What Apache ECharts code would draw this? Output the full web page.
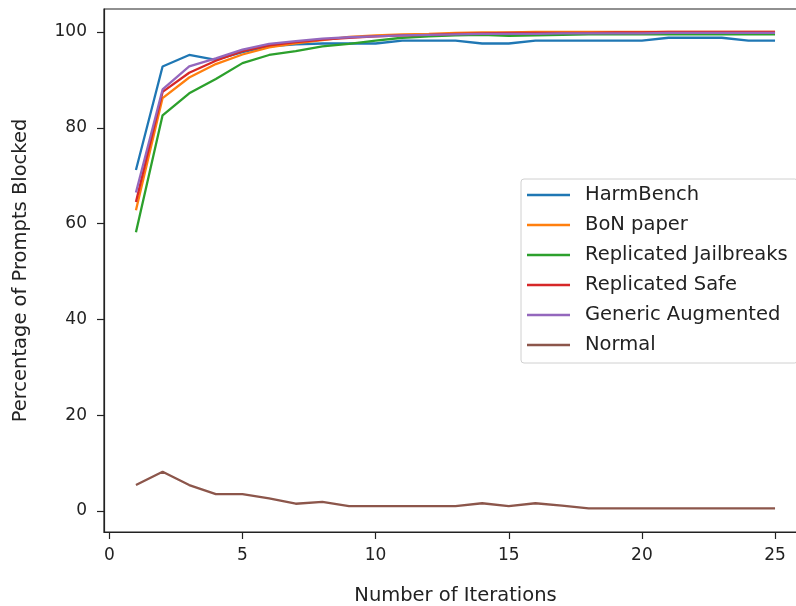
<!DOCTYPE html>
<html>
<head>
<meta charset="utf-8">
<script src="https://cdn.jsdelivr.net/npm/echarts@6/dist/echarts.min.js"></script>
<style>
html,body{margin:0;padding:0;background:#fff;overflow:hidden;width:796px;height:606px;}
#chart{width:811px;height:606px;}
</style>
</head>
<body>
<div id="chart"></div>
<script>
const iterations = [1,2,3,4,5,6,7,8,9,10,11,12,13,14,15,16,17,18,19,20,21,22,23,24,25];
const harmBench = [71.2,92.8,95.2,94.2,95.8,97.0,97.4,97.6,97.6,97.6,98.2,98.2,98.2,97.6,97.6,98.2,98.2,98.2,98.2,98.2,98.8,98.8,98.8,98.2,98.2];
const bonPaper = [62.8,86.2,90.5,93.3,95.3,96.8,97.6,98.3,99.0,99.3,99.5,99.6,99.8,99.9,99.9,100,100,100,100,100,100,100,100,100,100];
const replicatedJailbreaks = [58.2,82.6,87.2,90.2,93.5,95.2,96.0,97.0,97.5,98.2,98.8,99.1,99.3,99.4,99.2,99.3,99.4,99.5,99.5,99.5,99.5,99.5,99.5,99.5,99.5];
const replicatedSafe = [64.5,87.5,91.5,94.0,96.0,97.2,97.9,98.4,98.8,99.1,99.3,99.4,99.6,99.7,99.8,99.8,99.8,99.8,99.9,99.9,100,100,100,100,100];
const genericAugmented = [66.5,88.0,92.8,94.5,96.3,97.5,98.1,98.6,98.9,99.1,99.3,99.4,99.5,99.6,99.6,99.6,99.7,99.7,99.7,99.7,99.8,99.8,99.8,99.8,99.8];
const normal = [5.4,8.2,5.4,3.5,3.5,2.6,1.5,1.9,1.0,1.0,1.0,1.0,1.0,1.6,1.0,1.6,1.1,0.55,0.55,0.55,0.55,0.55,0.55,0.55,0.55];
const seriesNames = ["HarmBench","BoN paper","Replicated Jailbreaks","Replicated Safe","Generic Augmented","Normal"];
const seriesValues = [harmBench,bonPaper,replicatedJailbreaks,replicatedSafe,genericAugmented,normal];
const colors = ["#1f77b4","#ff7f0e","#2ca02c","#d62728","#9467bd","#8c564b"];
const xTicks = [0,5,10,15,20,25];
const yTicks = [0,20,40,60,80,100];

const FONT = "DejaVu Sans";
const chart = echarts.init(document.getElementById('chart'), null, {renderer:'canvas'});
chart.setOption({
  animation:false,
  backgroundColor:'#fff',
  color: colors,
  textStyle:{fontFamily:FONT},
  grid:{left:104, top:9, right:4, bottom:74, containLabel:false, outerBoundsMode:'none',
        show:true, borderColor:'#222', borderWidth:1.2, backgroundColor:'transparent'},
  legend:{
    orient:'vertical', left:521, top:179,
    data: seriesNames,
    icon:'rect', itemWidth:43, itemHeight:2.5, itemGap:10,
    textStyle:{fontFamily:FONT, fontSize:19.5, lineHeight:20, color:'#222', padding:[0,0,0,10]},
    backgroundColor:'rgba(255,255,255,0.8)',
    borderColor:'#d0d0d0', borderWidth:1, borderRadius:3,
    padding:[6,10,8,6]
  },
  xAxis:{
    type:'value', min:-0.2, max:26.2,
    name:'Number of Iterations', nameLocation:'middle', nameGap:54,
    nameTextStyle:{fontFamily:FONT, fontSize:19.5, color:'#222'},
    axisLine:{show:true, onZero:false, lineStyle:{color:'#222', width:1.2}},
    axisTick:{show:true, length:7, customValues:xTicks, lineStyle:{color:'#222', width:1.2}},
    axisLabel:{customValues:xTicks, fontFamily:FONT, fontSize:17, color:'#222', margin:15},
    splitLine:{show:false}
  },
  yAxis:{
    type:'value', min:-4.4, max:104.8,
    name:'Percentage of Prompts Blocked', nameLocation:'middle', nameGap:73,
    nameTextStyle:{fontFamily:FONT, fontSize:19.5, color:'#222'},
    axisLine:{show:true, onZero:false, lineStyle:{color:'#222', width:1.2}},
    axisTick:{show:true, length:7, customValues:yTicks, lineStyle:{color:'#222', width:1.2}},
    axisLabel:{customValues:yTicks, fontFamily:FONT, fontSize:17, color:'#222', margin:17},
    splitLine:{show:false}
  },
  series: seriesNames.map((n,i)=>({
    name:n, type:'line', showSymbol:false, symbol:'none',
    lineStyle:{width:2.3, color:colors[i]},
    itemStyle:{color:colors[i]},
    data: iterations.map((x,j)=>[x, seriesValues[i][j]])
  }))
});
</script>
</body>
</html>
